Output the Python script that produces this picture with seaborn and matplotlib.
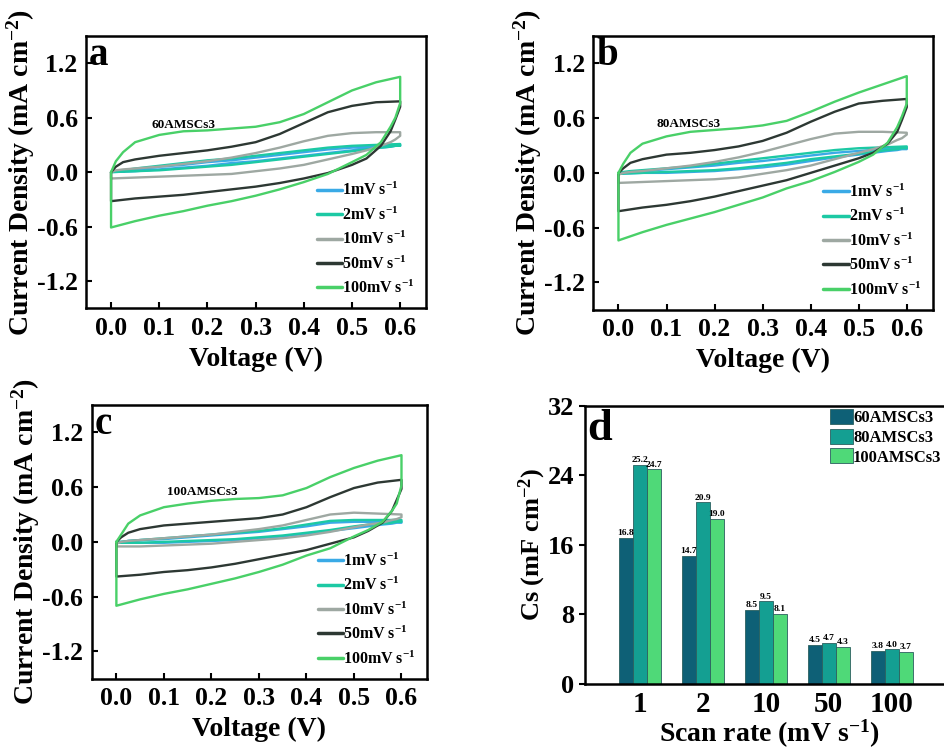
import numpy as np
import pandas as pd
import matplotlib
matplotlib.use("Agg")
import matplotlib.pyplot as plt
import seaborn as sns
from matplotlib.lines import Line2D
from matplotlib.patches import Patch

# ---------------- data ----------------
V_FWD = [0.0, 0.01, 0.025, 0.05, 0.1, 0.15, 0.2, 0.25, 0.3, 0.35, 0.4, 0.45, 0.5, 0.55, 0.6]
V_REV = [0.6, 0.59, 0.58, 0.56, 0.53, 0.5, 0.45, 0.4, 0.35, 0.3, 0.25, 0.2, 0.15, 0.1, 0.05, 0.0]

RATE_LABELS = ["1mV s$^{\\mathbf{-1}}$", "2mV s$^{\\mathbf{-1}}$", "10mV s$^{\\mathbf{-1}}$",
               "50mV s$^{\\mathbf{-1}}$", "100mV s$^{\\mathbf{-1}}$"]
CV_COLORS = ["#3aaae6", "#1cc9a4", "#9ea8a2", "#2d3833", "#49d068"]

# panel a : 60AMSCs3
A_1_FWD = [0.0, 0.01, 0.01, 0.03, 0.06, 0.08, 0.11, 0.13, 0.16, 0.19, 0.22, 0.25, 0.27, 0.29, 0.30]
A_1_REV = [0.29, 0.29, 0.28, 0.27, 0.26, 0.24, 0.21, 0.18, 0.15, 0.12, 0.10, 0.07, 0.05, 0.03, 0.01, 0.0]
A_2_FWD = [0.0, 0.01, 0.02, 0.04, 0.07, 0.10, 0.13, 0.15, 0.18, 0.21, 0.24, 0.27, 0.29, 0.30, 0.31]
A_2_REV = [0.29, 0.29, 0.28, 0.27, 0.25, 0.23, 0.20, 0.17, 0.14, 0.11, 0.08, 0.06, 0.04, 0.02, 0.01, 0.0]
A_10_FWD = [0.0, 0.02, 0.03, 0.04, 0.06, 0.09, 0.12, 0.16, 0.21, 0.27, 0.34, 0.40, 0.43, 0.44, 0.44]
A_10_REV = [0.40, 0.36, 0.33, 0.29, 0.24, 0.20, 0.14, 0.08, 0.04, 0.01, -0.02, -0.03, -0.04, -0.05, -0.06, -0.07]
A_50_FWD = [0.0, 0.06, 0.11, 0.14, 0.18, 0.21, 0.24, 0.28, 0.33, 0.42, 0.54, 0.66, 0.73, 0.77, 0.78]
A_50_REV = [0.72, 0.58, 0.45, 0.29, 0.15, 0.08, -0.01, -0.07, -0.12, -0.16, -0.19, -0.22, -0.25, -0.27, -0.29, -0.32]
A_100_FWD = [0.0, 0.12, 0.22, 0.33, 0.41, 0.45, 0.46, 0.48, 0.50, 0.55, 0.64, 0.77, 0.90, 0.99, 1.05]
A_100_REV = [0.76, 0.60, 0.50, 0.33, 0.19, 0.11, -0.02, -0.11, -0.19, -0.26, -0.32, -0.37, -0.43, -0.48, -0.54, -0.61]

# panel b : 80AMSCs3
B_1_FWD = [0.0, 0.0, 0.01, 0.02, 0.04, 0.06, 0.08, 0.11, 0.13, 0.16, 0.19, 0.22, 0.24, 0.26, 0.27]
B_1_REV = [0.26, 0.26, 0.25, 0.24, 0.22, 0.20, 0.17, 0.13, 0.09, 0.06, 0.04, 0.02, 0.01, 0.0, 0.0, -0.01]
B_2_FWD = [0.0, 0.01, 0.02, 0.03, 0.05, 0.07, 0.10, 0.13, 0.16, 0.19, 0.22, 0.25, 0.27, 0.28, 0.29]
B_2_REV = [0.27, 0.27, 0.26, 0.25, 0.23, 0.21, 0.18, 0.15, 0.11, 0.08, 0.05, 0.03, 0.02, 0.01, 0.0, -0.01]
B_10_FWD = [-0.02, 0.0, 0.01, 0.02, 0.05, 0.08, 0.12, 0.17, 0.23, 0.30, 0.37, 0.43, 0.45, 0.45, 0.44]
B_10_REV = [0.42, 0.38, 0.36, 0.31, 0.26, 0.22, 0.15, 0.08, 0.03, -0.01, -0.05, -0.07, -0.08, -0.09, -0.10, -0.11]
B_50_FWD = [0.0, 0.05, 0.11, 0.15, 0.20, 0.22, 0.25, 0.29, 0.35, 0.44, 0.56, 0.67, 0.76, 0.79, 0.81]
B_50_REV = [0.72, 0.58, 0.45, 0.32, 0.22, 0.16, 0.08, 0.00, -0.08, -0.14, -0.20, -0.26, -0.31, -0.35, -0.38, -0.42]
B_100_FWD = [0.0, 0.10, 0.22, 0.32, 0.40, 0.45, 0.47, 0.49, 0.52, 0.57, 0.67, 0.78, 0.88, 0.97, 1.06]
B_100_REV = [0.76, 0.62, 0.50, 0.33, 0.20, 0.12, 0.01, -0.09, -0.17, -0.27, -0.35, -0.43, -0.50, -0.57, -0.65, -0.74]

# panel c : 100AMSCs3
C_1_FWD = [0.0, 0.0, 0.01, 0.02, 0.03, 0.05, 0.07, 0.09, 0.11, 0.14, 0.17, 0.21, 0.22, 0.22, 0.22]
C_1_REV = [0.21, 0.21, 0.20, 0.19, 0.17, 0.15, 0.12, 0.09, 0.06, 0.04, 0.02, 0.01, 0.0, -0.01, -0.01, -0.01]
C_2_FWD = [0.0, 0.0, 0.01, 0.02, 0.04, 0.06, 0.08, 0.10, 0.12, 0.15, 0.19, 0.23, 0.24, 0.24, 0.24]
C_2_REV = [0.22, 0.22, 0.21, 0.20, 0.19, 0.17, 0.13, 0.10, 0.07, 0.05, 0.03, 0.02, 0.01, 0.0, -0.01, -0.01]
C_10_FWD = [-0.02, 0.0, 0.01, 0.02, 0.04, 0.06, 0.08, 0.11, 0.14, 0.18, 0.24, 0.30, 0.32, 0.31, 0.30]
C_10_REV = [0.27, 0.25, 0.24, 0.21, 0.19, 0.16, 0.11, 0.07, 0.04, 0.02, 0.0, -0.02, -0.03, -0.04, -0.05, -0.05]
C_50_FWD = [0.0, 0.05, 0.10, 0.14, 0.18, 0.20, 0.22, 0.24, 0.26, 0.30, 0.38, 0.49, 0.59, 0.65, 0.68]
C_50_REV = [0.58, 0.46, 0.34, 0.21, 0.12, 0.05, -0.02, -0.09, -0.14, -0.19, -0.24, -0.28, -0.31, -0.33, -0.36, -0.38]
C_100_FWD = [0.0, 0.08, 0.20, 0.29, 0.38, 0.42, 0.45, 0.47, 0.48, 0.51, 0.59, 0.71, 0.81, 0.89, 0.95]
C_100_REV = [0.62, 0.42, 0.34, 0.22, 0.13, 0.06, -0.07, -0.15, -0.25, -0.33, -0.40, -0.46, -0.52, -0.57, -0.63, -0.70]

# panel d : bar chart
SCAN_RATES = ["1", "2", "10", "50", "100"]
SAMPLES = ["60AMSCs3", "80AMSCs3", "100AMSCs3"]
CS_60 = [16.8, 14.7, 8.5, 4.5, 3.8]
CS_80 = [25.2, 20.9, 9.5, 4.7, 4.0]
CS_100 = [24.7, 19.0, 8.1, 4.3, 3.7]
BAR_COLORS = ["#0e6076", "#149f92", "#4fd978"]

# ---------------- style ----------------
sns.set_theme(style="ticks")
plt.rcParams["font.family"] = ["Liberation Serif", "DejaVu Serif"]
plt.rcParams["font.weight"] = "bold"
plt.rcParams["axes.labelweight"] = "bold"
plt.rcParams["text.color"] = "black"
plt.rcParams["axes.labelcolor"] = "black"
plt.rcParams["xtick.color"] = "black"
plt.rcParams["ytick.color"] = "black"
plt.rcParams["axes.edgecolor"] = "black"
plt.rcParams["mathtext.fontset"] = "custom"
plt.rcParams["mathtext.rm"] = "Liberation Serif:bold"
plt.rcParams["mathtext.bf"] = "Liberation Serif:bold"
plt.rcParams["mathtext.it"] = "Liberation Serif:bold:italic"

fig = plt.figure(figsize=(9.45, 7.5), dpi=100)

def cv_frame(curves):
    rows = []
    for label, (fwd, rev) in zip(RATE_LABELS, curves):
        vs = V_FWD + V_REV + [V_FWD[0]]
        ys = fwd + rev + [fwd[0]]
        for k, (v, i) in enumerate(zip(vs, ys)):
            rows.append({"V": v, "I": i, "rate": label, "k": k})
    return pd.DataFrame(rows)

def cv_panel(rect, curves, letter, name, name_xy):
    ax = fig.add_axes(rect)
    df = cv_frame(curves)
    sns.lineplot(data=df, x="V", y="I", hue="rate", hue_order=RATE_LABELS,
                 palette=CV_COLORS, sort=False, estimator=None, lw=1.7,
                 legend=False, ax=ax)
    ax.set_xlim(-0.052, 0.654)
    ax.set_ylim(-1.5, 1.5)
    ax.set_xticks([0.0, 0.1, 0.2, 0.3, 0.4, 0.5, 0.6])
    ax.set_xticklabels(["0.0", "0.1", "0.2", "0.3", "0.4", "0.5", "0.6"])
    ax.set_yticks([-1.2, -0.6, 0.0, 0.6, 1.2])
    ax.set_yticklabels(["-1.2", "-0.6", "0.0", "0.6", "1.2"])
    ax.tick_params(direction="in", length=4, width=1.5, labelsize=18.5, pad=6)
    for lab in ax.get_xticklabels() + ax.get_yticklabels():
        lab.set_fontweight("bold")
    for s in ax.spines.values():
        s.set_linewidth(1.8)
        s.set_color("black")
    ax.set_xlabel("Voltage (V)", fontsize=20, fontweight="bold", labelpad=5)
    ax.set_ylabel("Current Density (mA cm$^{\\mathbf{-2}}$)", fontsize=20,
                  fontweight="bold", labelpad=0)
    ax.text(0.008, 0.995, letter, transform=ax.transAxes, fontsize=28,
            fontweight="bold", va="top", ha="left")
    ax.text(name_xy[0], name_xy[1], name, fontsize=9.5, fontweight="bold",
            va="center", ha="left")
    handles = [Line2D([0], [0], color=c, lw=2.5) for c in CV_COLORS]
    ax.legend(handles, RATE_LABELS, loc="lower right",
              bbox_to_anchor=(1.0, 0.0), frameon=False,
              handlelength=1.6, handletextpad=0.0, labelspacing=0.45,
              borderaxespad=0.3, prop={"family": "Liberation Serif",
                                       "weight": "bold", "size": 11.5})
    return ax

A = [(A_1_FWD, A_1_REV), (A_2_FWD, A_2_REV), (A_10_FWD, A_10_REV),
     (A_50_FWD, A_50_REV), (A_100_FWD, A_100_REV)]
B = [(B_1_FWD, B_1_REV), (B_2_FWD, B_2_REV), (B_10_FWD, B_10_REV),
     (B_50_FWD, B_50_REV), (B_100_FWD, B_100_REV)]
C = [(C_1_FWD, C_1_REV), (C_2_FWD, C_2_REV), (C_10_FWD, C_10_REV),
     (C_50_FWD, C_50_REV), (C_100_FWD, C_100_REV)]

cv_panel([0.091, 0.589, 0.360, 0.363], A, "a", "60AMSCs3", (0.083, 0.52))
cv_panel([0.628, 0.587, 0.359, 0.365], B, "b", "80AMSCs3", (0.079, 0.54))
cv_panel([0.097, 0.095, 0.355, 0.365], C, "c", "100AMSCs3", (0.107, 0.55))

# ---------------- panel d ----------------
axd = fig.add_axes([0.619, 0.088, 0.39, 0.371])
bars = pd.DataFrame({
    "scan": SCAN_RATES * 3,
    "cs": CS_60 + CS_80 + CS_100,
    "sample": [SAMPLES[0]] * 5 + [SAMPLES[1]] * 5 + [SAMPLES[2]] * 5,
})
sns.barplot(data=bars, x="scan", y="cs", hue="sample", hue_order=SAMPLES,
            order=SCAN_RATES, palette=BAR_COLORS, width=0.67, saturation=1,
            edgecolor="#2b5f5f", linewidth=0.6, legend=False, ax=axd)
for cont in axd.containers:
    axd.bar_label(cont, fmt="%.1f", fontsize=6.8, fontweight="bold", padding=0.5)
axd.set_xlim(-0.87, 4.98)
axd.set_ylim(0, 32)
axd.set_yticks([0, 8, 16, 24, 32])
axd.tick_params(axis="y", direction="out", length=4, width=1.5, labelsize=19)
axd.tick_params(axis="x", length=0, labelsize=21, pad=5)
for lab in axd.get_xticklabels() + axd.get_yticklabels():
    lab.set_fontweight("bold")
for s in axd.spines.values():
    s.set_linewidth(1.8)
    s.set_color("black")
axd.set_xlabel("Scan rate (mV s$^{\\mathbf{-1}}$)", fontsize=20, fontweight="bold", labelpad=0)
axd.set_ylabel("Cs (mF cm$^{\\mathbf{-2}}$)", fontsize=19, fontweight="bold", labelpad=0)
axd.text(0.005, 0.99, "d", transform=axd.transAxes, fontsize=32,
         fontweight="bold", va="top", ha="left")
phandles = [Patch(facecolor=c, edgecolor="#2b5f5f", linewidth=0.6) for c in BAR_COLORS]
axd.legend(phandles, SAMPLES, loc="upper left", bbox_to_anchor=(0.655, 1.0),
           frameon=False, handlelength=1.4, handleheight=1.0, handletextpad=0.0,
           labelspacing=0.15, borderaxespad=0.1, borderpad=0.1,
           prop={"family": "Liberation Serif", "weight": "bold", "size": 12})

fig.savefig("out.png", dpi=100)
